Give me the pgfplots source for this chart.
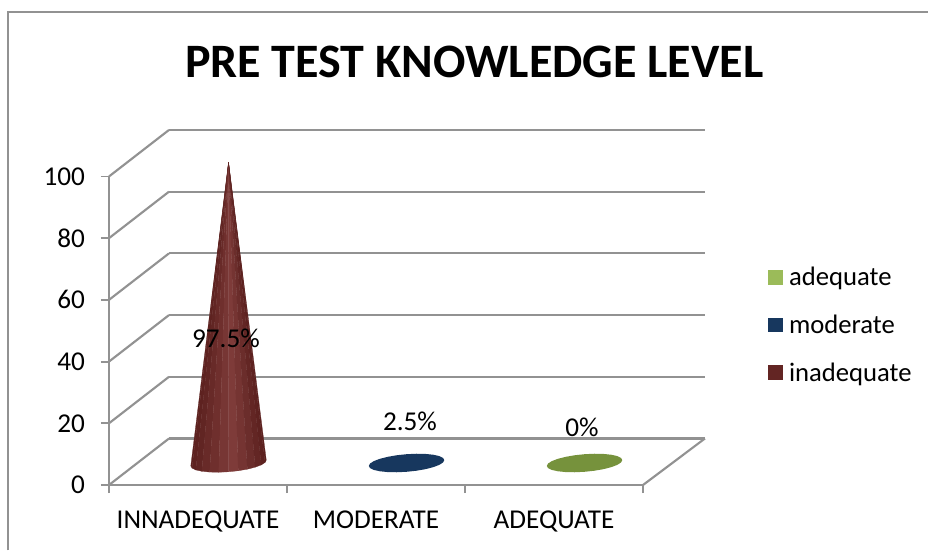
\documentclass[border=0pt]{standalone}
\usepackage{pgfplots}
\pgfplotsset{compat=1.18}
\usepackage{fontspec}
\setmainfont{Carlito}
\definecolor{wall}{HTML}{929292}
\definecolor{conedark}{HTML}{5C211F}
\definecolor{conelight}{HTML}{7E3B39}
\definecolor{inadeq}{HTML}{632523}
\definecolor{moder}{HTML}{17375E}
\definecolor{adeq}{HTML}{9BBB59}
\definecolor{adeqtop}{HTML}{76923C}
\pgfplotsset{
  depth/.style={xshift=22.9pt,yshift=16.5pt},
  sq/.style={legend image code/.code={\path[draw=none,fill=none] (0pt,0pt) -- (14pt,0pt);\fill[draw=none,##1] (0pt,-5.6pt) rectangle (11.2pt,5.6pt);}},
}
% one slice of the cone: light share, then two base points
\newcommand\slice[5]{\addplot[forget plot,depth,fill=conelight!#1!conedark,draw=conelight!#1!conedark,line width=0.2pt] coordinates {(0.5,97.5) (#2,#3) (#4,#5)} --cycle;}
\begin{document}
\begin{tikzpicture}
\path[use as bounding box] (0,0) rectangle (696pt,412.5pt);
\begin{axis}[
  at={(81.75pt,48.75pt)},
  anchor=south west,
  scale only axis,
  width=400.5pt,
  height=231.4pt,
  xmin=0, xmax=3,
  ymin=0, ymax=100,
  clip=false,
  axis lines=left,
  axis line style={-,draw=wall,line width=1.6pt},
  tick align=outside,
  major tick length=6pt,
  tick style={draw=wall,line width=1.4pt},
  xtick={0.5,1.5,2.5},
  xticklabels={INNADEQUATE,MODERATE,ADEQUATE},
  xtick style={draw=none},
  extra x ticks={0,1,2,3},
  extra x tick labels={},
  extra x tick style={xtick style={draw=wall,line width=1.4pt}},
  ytick={0,20,40,60,80,100},
  tick label style={font=\fontsize{20.4}{24}\selectfont},
  xticklabel style={yshift=-10pt},
  yticklabel style={xshift=-8.5pt},
  /pgf/number format/assume math mode=true,
  title={\fontsize{36}{42}\selectfont\bfseries PRE TEST KNOWLEDGE LEVEL},
  title style={at={(0.684,1.345)},anchor=center},
  legend style={draw=none,fill=none,at={(1.233,0.5186)},anchor=west,
    inner xsep=0pt,inner ysep=0pt,row sep=16.5pt,
    font=\fontsize{20}{24}\selectfont,
    legend cell align=left},
]
\addlegendimage{sq,fill=adeq}
\addlegendentry{adequate}
\addlegendimage{sq,fill=moder}
\addlegendentry{moderate}
\addlegendimage{sq,fill=inadeq}
\addlegendentry{inadequate}

% outer frame of the chart area
\addplot[forget plot,draw=wall,line width=1.6pt] coordinates {(-0.565,-21.2) (-0.565,153.3) (4.601,153.3)};

% side wall and floor diagonals
\addplot[forget plot,draw=wall,line width=1.6pt,unbounded coords=jump] coordinates {
  (0,0) (0.337,15.07) (0,nan)
  (0,20) (0.337,35.07) (0,nan)
  (0,40) (0.337,55.07) (0,nan)
  (0,60) (0.337,75.07) (0,nan)
  (0,80) (0.337,95.07) (0,nan)
  (0,100) (0.337,115.07) (0,nan)
  (3,0) (3.348,15.07)
};
% back wall grid
\addplot[forget plot,draw=wall,line width=1.6pt,unbounded coords=jump] coordinates {
  (0.337,15.07) (3.348,15.07) (0,nan)
  (0.337,35.07) (3.348,35.07) (0,nan)
  (0.337,55.07) (3.348,55.07) (0,nan)
  (0.337,75.07) (3.348,75.07) (0,nan)
  (0.337,95.07) (3.348,95.07) (0,nan)
  (0.337,115.07) (3.348,115.07)
};

% inadequate cone, value 97.5, built from slices for the round shading
\slice{0}{0.288}{-0.94}{0.295}{-1.65}
\slice{5}{0.295}{-1.65}{0.316}{-2.24}
\slice{15}{0.316}{-2.24}{0.35}{-2.68}
\slice{35}{0.35}{-2.68}{0.394}{-2.94}
\slice{55}{0.394}{-2.94}{0.445}{-3.0}
\slice{80}{0.445}{-3.0}{0.5}{-2.85}
\slice{100}{0.5}{-2.85}{0.555}{-2.51}
\slice{75}{0.555}{-2.51}{0.606}{-2.0}
\slice{45}{0.606}{-2.0}{0.650}{-1.35}
\slice{20}{0.650}{-1.35}{0.684}{-0.61}
\slice{5}{0.684}{-0.61}{0.705}{0.17}
\slice{0}{0.705}{0.17}{0.712}{0.94}

% moderate, flat disc
\addplot[forget plot,depth,draw=none,fill=moder] coordinates {
  (1.712,0.94) (1.705,1.65) (1.684,2.24) (1.650,2.68) (1.606,2.94) (1.555,3.0)
  (1.5,2.85) (1.445,2.51) (1.394,2.0) (1.35,1.35) (1.316,0.61) (1.295,-0.17)
  (1.288,-0.94) (1.295,-1.65) (1.316,-2.24) (1.35,-2.68) (1.394,-2.94) (1.445,-3.0)
  (1.5,-2.85) (1.555,-2.51) (1.606,-2.0) (1.650,-1.35) (1.684,-0.61) (1.705,0.17)
} --cycle;
% adequate, flat disc
\addplot[forget plot,depth,draw=none,fill=adeqtop] coordinates {
  (2.712,0.94) (2.705,1.65) (2.684,2.24) (2.650,2.68) (2.606,2.94) (2.555,3.0)
  (2.5,2.85) (2.445,2.51) (2.394,2.0) (2.35,1.35) (2.316,0.61) (2.295,-0.17)
  (2.288,-0.94) (2.295,-1.65) (2.316,-2.24) (2.35,-2.68) (2.394,-2.94) (2.445,-3.0)
  (2.5,-2.85) (2.555,-2.51) (2.606,-2.0) (2.650,-1.35) (2.684,-0.61) (2.705,0.17)
} --cycle;

\node[font=\fontsize{20.4}{24}\selectfont] at (axis cs:0.657,47.6) {97.5\%};
\node[font=\fontsize{20.4}{24}\selectfont] at (axis cs:1.691,20.7) {2.5\%};
\node[font=\fontsize{20.4}{24}\selectfont] at (axis cs:2.657,18.8) {0\%};
\end{axis}
\end{tikzpicture}
\end{document}
